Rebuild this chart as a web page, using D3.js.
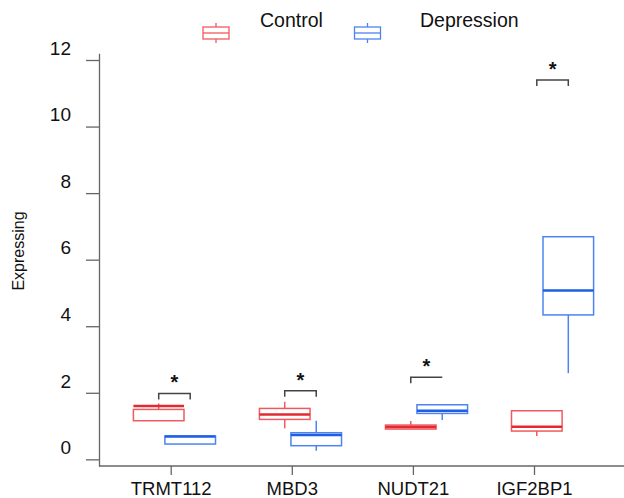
<!DOCTYPE html>
<html>
<head>
<meta charset="utf-8">
<script src="https://cdn.jsdelivr.net/npm/d3@7"></script>
<style>
  html, body { margin: 0; padding: 0; background: #fff; }
  svg { display: block; font-family: "Liberation Sans", Arial, sans-serif; }
</style>
</head>
<body>
<div id="container"></div>
<script>
const genes = ["TRMT112", "MBD3", "NUDT21", "IGF2BP1"];
const groups = ["Control", "Depression"];

const controlMin = [1.16, 0.93, 0.91, 0.70];
const controlQ1 = [1.16, 1.20, 0.91, 0.85];
const controlMedian = [1.60, 1.35, 0.97, 0.98];
const controlQ3 = [1.50, 1.53, 1.03, 1.46];
const controlMax = [1.68, 1.73, 1.15, 1.46];

const depressionMin = [0.46, 0.26, 1.18, 2.59];
const depressionQ1 = [0.46, 0.41, 1.38, 4.34];
const depressionMedian = [0.69, 0.73, 1.46, 5.07];
const depressionQ3 = [0.70, 0.80, 1.64, 6.69];
const depressionMax = [0.70, 1.16, 1.64, 6.69];

const sigHeight = [1.98, 2.06, 2.47, 11.4];
const sigRightLeg = [true, true, false, true];
const yTicks = [0, 2, 4, 6, 8, 10, 12];

const width = 624;
const height = 498;

const boxColor = { Control: "#f05a5e", Depression: "#4d84ef" };
const medColor = { Control: "#e42a30", Depression: "#1c5fe6" };

const svg = d3.select("#container").append("svg")
  .attr("width", width).attr("height", height);

const y = d3.scaleLinear().domain([-0.2, 12.2]).range([466, 53.35]);
const xTick = d3.scalePoint().domain(genes).range([170.7, 534]);
const xBox = d3.scalePoint().domain(genes).range([158.7, 536.8]);
const xGroup = d3.scalePoint().domain(groups).range([0, 31.5]);
const boxW = 50.6;

// y axis
const yAxis = svg.append("g")
  .attr("transform", "translate(99,0)")
  .call(d3.axisLeft(y).tickValues(yTicks).tickSize(13).tickSizeOuter(0).tickFormat(d3.format("d")));
yAxis.select(".domain").attr("stroke", "#666").attr("stroke-width", 1.3);
yAxis.selectAll(".tick line").attr("stroke", "#666").attr("stroke-width", 1.3);
yAxis.selectAll(".tick text")
  .attr("x", -28).attr("dy", "-0.3em")
  .attr("font-size", 19).attr("fill", "#111");

// x axis
svg.append("line")
  .attr("x1", 99).attr("x2", width)
  .attr("y1", y(-0.2)).attr("y2", y(-0.2))
  .attr("stroke", "#666").attr("stroke-width", 1.3);
const xAxis = svg.append("g")
  .attr("transform", `translate(0,${y(-0.2)})`)
  .call(d3.axisBottom(xTick).tickSize(9).tickSizeOuter(0));
xAxis.select(".domain").remove();
xAxis.selectAll(".tick line").attr("stroke", "#666").attr("stroke-width", 1.3);
xAxis.selectAll(".tick text")
  .attr("y", 29).attr("dy", 0)
  .attr("font-size", 18.5).attr("fill", "#111");

// y title
svg.append("text")
  .attr("transform", "translate(24,251) rotate(-90)")
  .attr("text-anchor", "middle")
  .attr("font-size", 16)
  .attr("fill", "#111")
  .text("Expressing");

// boxes
const boxData = [];
genes.forEach((g, i) => {
  boxData.push({ gene: g, group: "Control", min: controlMin[i], q1: controlQ1[i], med: controlMedian[i], q3: controlQ3[i], max: controlMax[i] });
  boxData.push({ gene: g, group: "Depression", min: depressionMin[i], q1: depressionQ1[i], med: depressionMedian[i], q3: depressionQ3[i], max: depressionMax[i] });
});

const boxes = svg.selectAll(".box").data(boxData).enter().append("g")
  .attr("class", "box")
  .attr("transform", (d) => `translate(${xBox(d.gene) + xGroup(d.group)},0)`);

boxes.append("line")
  .attr("y1", (d) => y(d.q3)).attr("y2", (d) => y(d.max))
  .attr("stroke", (d) => boxColor[d.group]).attr("stroke-width", 1.5);
boxes.append("line")
  .attr("y1", (d) => y(d.q1)).attr("y2", (d) => y(d.min))
  .attr("stroke", (d) => boxColor[d.group]).attr("stroke-width", 1.5);
boxes.append("rect")
  .attr("x", -boxW / 2).attr("width", boxW)
  .attr("y", (d) => y(d.q3))
  .attr("height", (d) => Math.max(0, y(d.q1) - y(d.q3)))
  .attr("fill", "none")
  .attr("stroke", (d) => boxColor[d.group]).attr("stroke-width", 1.5);
boxes.append("line")
  .attr("x1", -boxW / 2).attr("x2", boxW / 2)
  .attr("y1", (d) => y(d.med)).attr("y2", (d) => y(d.med))
  .attr("stroke", (d) => medColor[d.group]).attr("stroke-width", 2.5);

// significance brackets
const sig = svg.selectAll(".sig").data(genes).enter().append("g").attr("class", "sig");
sig.append("path")
  .attr("d", (g, i) => {
    const x0 = xBox(g) + xGroup("Control");
    const x1 = xBox(g) + xGroup("Depression");
    const yy = y(sigHeight[i]);
    return `M${x0},${yy + 6}V${yy}H${x1}` + (sigRightLeg[i] ? `V${yy + 6}` : "");
  })
  .attr("fill", "none").attr("stroke", "#444").attr("stroke-width", 1.5);
sig.append("text")
  .attr("x", (g) => xBox(g) + (xGroup("Control") + xGroup("Depression")) / 2)
  .attr("y", (g, i) => y(sigHeight[i]) - 4)
  .attr("text-anchor", "middle")
  .attr("font-size", 20)
  .attr("font-weight", "bold")
  .attr("fill", "#111")
  .text("*");

// legend
const legendX = d3.scaleOrdinal().domain(groups).range([216, 367.5]);
const legendTextX = d3.scaleOrdinal().domain(groups).range([260, 420]);
const leg = svg.selectAll(".legend").data(groups).enter().append("g").attr("class", "legend");
leg.append("line")
  .attr("x1", (d) => legendX(d)).attr("x2", (d) => legendX(d))
  .attr("y1", 23).attr("y2", 43)
  .attr("stroke", (d) => boxColor[d]).attr("stroke-width", 1.3);
leg.append("rect")
  .attr("x", (d) => legendX(d) - 13).attr("width", 26)
  .attr("y", 27).attr("height", 12)
  .attr("fill", "#fff")
  .attr("stroke", (d) => boxColor[d]).attr("stroke-width", 1.3);
leg.append("line")
  .attr("x1", (d) => legendX(d) - 13).attr("x2", (d) => legendX(d) + 13)
  .attr("y1", 33).attr("y2", 33)
  .attr("stroke", (d) => boxColor[d]).attr("stroke-width", 1.3);
leg.append("text")
  .attr("x", (d) => legendTextX(d))
  .attr("y", 26.5)
  .attr("font-size", 19.5)
  .attr("fill", "#111")
  .text((d) => d);
</script>
</body>
</html>
